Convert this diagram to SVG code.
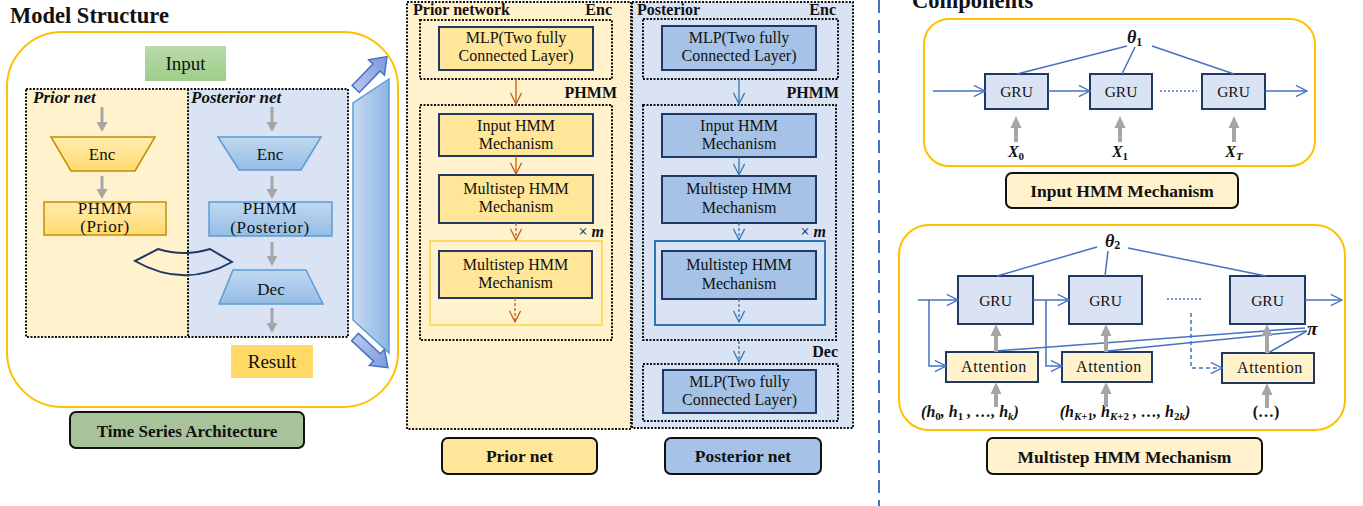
<svg xmlns="http://www.w3.org/2000/svg" width="1363" height="506" viewBox="0 0 1363 506">
  <style>
    text { font-family: "Liberation Serif", "Times New Roman", serif; fill: #111; }
    .ttl { font-size: 22.5px; font-weight: bold; }
    .bd { font-weight: bold; }
    .bi { font-weight: bold; font-style: italic; }
    .up { font-style: normal; }
    .m { text-anchor: middle; }
    .e { text-anchor: end; }
    .t16 { font-size: 16px; }
    .t17 { font-size: 17px; }
    .dot { fill: none; stroke: #111; stroke-width: 2; stroke-dasharray: 2 1.5; }
    .boxY { fill: #FFE699; stroke: #1F3864; stroke-width: 2; }
    .boxB { fill: #A6C3E7; stroke: #1F3864; stroke-width: 2; }
    .gru { fill: #DAE3F3; stroke: #1F3864; stroke-width: 2; }
    .att { fill: #FFF2CC; stroke: #1F3864; stroke-width: 2; }
    .lbl { stroke: #111; stroke-width: 2; }
    .gray { fill: #A6A6A6; }
    .oa { fill: none; stroke: #C55A11; stroke-width: 1.3; marker-end: url(#hO); }
    .ba { fill: none; stroke: #2E75B6; stroke-width: 1.3; marker-end: url(#hB); }
    .ra { fill: none; stroke: #4472C4; stroke-width: 1.5; marker-end: url(#hR); }
    .rl { fill: none; stroke: #4472C4; stroke-width: 1.5; }
    .dsh { stroke-dasharray: 3 2; }
  </style>
  <defs>
    <marker id="hO" viewBox="0 0 14 14" refX="13" refY="7" markerWidth="13" markerHeight="13" markerUnits="userSpaceOnUse" orient="auto">
      <path d="M1,1 L13,7 L1,13" fill="none" stroke="#C55A11" stroke-width="1.3"/>
    </marker>
    <marker id="hB" viewBox="0 0 14 14" refX="13" refY="7" markerWidth="13" markerHeight="13" markerUnits="userSpaceOnUse" orient="auto">
      <path d="M1,1 L13,7 L1,13" fill="none" stroke="#2E75B6" stroke-width="1.3"/>
    </marker>
    <marker id="hR" viewBox="0 0 14 14" refX="13" refY="7" markerWidth="13" markerHeight="13" markerUnits="userSpaceOnUse" orient="auto">
      <path d="M1,1 L13,7 L1,13" fill="none" stroke="#4472C4" stroke-width="1.5"/>
    </marker>
    <linearGradient id="gIn" x1="0" y1="0" x2="0" y2="1">
      <stop offset="0" stop-color="#B9DBAA"/><stop offset="1" stop-color="#9ECD89"/>
    </linearGradient>
    <linearGradient id="gY" x1="0" y1="0" x2="0" y2="1">
      <stop offset="0" stop-color="#FFEBAE"/><stop offset="1" stop-color="#FFDB70"/>
    </linearGradient>
    <linearGradient id="gB" x1="0" y1="0" x2="0" y2="1">
      <stop offset="0" stop-color="#C0D8F0"/><stop offset="1" stop-color="#95BDE5"/>
    </linearGradient>
    <linearGradient id="gPar" x1="0" y1="0" x2="1" y2="0">
      <stop offset="0" stop-color="#C6DBF1"/><stop offset="1" stop-color="#8EB4E2"/>
    </linearGradient>
    <linearGradient id="gArr" x1="0" y1="0" x2="1" y2="0">
      <stop offset="0" stop-color="#B7C6EE"/><stop offset="1" stop-color="#7C97DA"/>
    </linearGradient>
  </defs>

  <!-- ===== Model structure panel ===== -->
  <g id="model-structure">
    <text class="ttl" x="10" y="23">Model Structure</text>
    <rect x="7" y="32" width="391" height="375" rx="55" fill="#fff" stroke="#FFC000" stroke-width="2"/>
  </g>
  <g id="input-box">
    <rect x="145" y="46" width="81" height="35" fill="url(#gIn)"/>
    <text class="m" x="185.5" y="70" font-size="19">Input</text>
  </g>
  <g id="nets-frame">
    <rect x="26" y="89" width="162" height="248" fill="#FFF2CC"/>
    <rect x="188" y="89" width="160" height="248" fill="#DAE3F3"/>
    <line x1="188" y1="89" x2="188" y2="337" class="dot"/>
    <rect x="26" y="89" width="322" height="248" class="dot"/>
    <text class="bi t17" x="33" y="103">Prior net</text>
    <text class="bi t17" x="191" y="103">Posterior net</text>
  </g>
  <g id="prior-enc">
    <path d="M51,137 H155 L135,171 H71 Z" fill="url(#gY)" stroke="#BF9000" stroke-width="1.5"/>
    <text class="m t17" x="102" y="160">Enc</text>
  </g>
  <g id="prior-phmm">
    <rect x="44" y="202" width="122" height="33" fill="url(#gY)" stroke="#BF9000" stroke-width="1.5"/>
    <text class="m t17" x="105" y="214" letter-spacing="0.6">PHMM</text>
    <text class="m t17" x="105" y="232" letter-spacing="0.6">(Prior)</text>
  </g>
  <g id="post-enc">
    <path d="M218,137 H321 L301,170 H239 Z" fill="url(#gB)" stroke="#5B9BD5" stroke-width="1.5"/>
    <text class="m t17" x="270" y="160">Enc</text>
  </g>
  <g id="post-phmm">
    <rect x="209" y="202" width="123" height="34" fill="url(#gB)" stroke="#5B9BD5" stroke-width="1.5"/>
    <text class="m t17" x="270" y="214" letter-spacing="0.6">PHMM</text>
    <text class="m t17" x="270" y="233" letter-spacing="0.6">(Posterior)</text>
  </g>
  <g id="kl-band">
    <path d="M135,261 L158,249 Q184,257 210,249 L232,262 Q184,289 135,261 Z" fill="none" stroke="#1F3864" stroke-width="2"/>
  </g>
  <g id="post-dec">
    <path d="M233,270 H306 L323,304 H219 Z" fill="url(#gB)" stroke="#5B9BD5" stroke-width="1.5"/>
    <text class="m t17" x="271" y="295">Dec</text>
  </g>
  <g id="result-box">
    <rect x="231" y="345" width="82" height="33" fill="#FFD966"/>
    <text class="m" x="272" y="368" font-size="19">Result</text>
  </g>
  <g id="side-bar">
    <path d="M389,79 L353,103 V320 L389,353 Z" fill="url(#gPar)" stroke="#5B9BD5" stroke-width="1.5"/>
    <path transform="translate(355.7,89) rotate(-46)" d="M0,-5 H30 V-11 L45,0 L30,11 V5 H0 Z" fill="url(#gArr)" stroke="#4472C4" stroke-width="1.5"/>
    <path transform="translate(355,337) rotate(43)" d="M0,-5 H30 V-11 L45,0 L30,11 V5 H0 Z" fill="url(#gArr)" stroke="#4472C4" stroke-width="1.5"/>
  </g>
  <g id="time-series-label">
    <rect x="70" y="412" width="234" height="36" rx="6" fill="#A8C39A" class="lbl"/>
    <text class="m bd t17" x="187" y="437">Time Series Architecture</text>
  </g>

  <!-- ===== Prior network column ===== -->
  <g id="prior-network">
    <rect x="407" y="2" width="224" height="427" class="dot" style="fill:#FFF2CC"/>
    <text class="bd t16" x="413" y="15">Prior network</text>
    <text class="bd t16 e" x="612" y="15">Enc</text>
    <rect x="420" y="20" width="192" height="59" class="dot"/>
    <rect x="439" y="27" width="154" height="43" class="boxY"/>
    <text class="m t16" x="516" y="43">MLP(Two fully</text>
    <text class="m t16" x="516" y="61">Connected Layer)</text>
    <text class="bd t16 e" x="617" y="98">PHMM</text>
    <rect x="420" y="105" width="192" height="235" class="dot"/>
    <rect x="439" y="114" width="154" height="42" class="boxY"/>
    <text class="m t16" x="516" y="131">Input HMM</text>
    <text class="m t16" x="516" y="149">Mechanism</text>
    <rect x="439" y="175" width="154" height="48" class="boxY"/>
    <text class="m t16" x="516" y="194">Multistep HMM</text>
    <text class="m t16" x="516" y="212">Mechanism</text>
    <text class="e t16" x="604" y="237">× <tspan class="bi">m</tspan></text>
    <rect x="430" y="241" width="172" height="84" fill="none" stroke="#FFD966" stroke-width="2"/>
    <rect x="439" y="251" width="153" height="47" class="boxY"/>
    <text class="m t16" x="515.5" y="270">Multistep HMM</text>
    <text class="m t16" x="515.5" y="288">Mechanism</text>
  </g>
  <g id="prior-net-label">
    <rect x="442" y="438" width="155" height="36" rx="6" fill="#FFE699" class="lbl"/>
    <text class="m bd" x="519.5" y="462" font-size="17.5">Prior net</text>
  </g>

  <!-- ===== Posterior network column ===== -->
  <g id="posterior-network">
    <rect x="632" y="2" width="221" height="426" class="dot" style="fill:#DAE3F3"/>
    <text class="bd t16" x="637" y="15">Posterior</text>
    <text class="bd t16 e" x="836" y="15">Enc</text>
    <rect x="643" y="19" width="195" height="60" class="dot"/>
    <rect x="662" y="26" width="154" height="44" class="boxB"/>
    <text class="m t16" x="739" y="43">MLP(Two fully</text>
    <text class="m t16" x="739" y="61">Connected Layer)</text>
    <text class="bd t16 e" x="839" y="98">PHMM</text>
    <rect x="643" y="105" width="193" height="235" class="dot"/>
    <rect x="662" y="114" width="154" height="43" class="boxB"/>
    <text class="m t16" x="739" y="131">Input HMM</text>
    <text class="m t16" x="739" y="149">Mechanism</text>
    <rect x="662" y="176" width="154" height="47" class="boxB"/>
    <text class="m t16" x="739" y="194">Multistep HMM</text>
    <text class="m t16" x="739" y="213">Mechanism</text>
    <text class="e t16" x="826" y="237">× <tspan class="bi">m</tspan></text>
    <rect x="655" y="241" width="170" height="84" fill="none" stroke="#2E75B6" stroke-width="2"/>
    <rect x="662" y="251" width="154" height="48" class="boxB"/>
    <text class="m t16" x="739" y="270">Multistep HMM</text>
    <text class="m t16" x="739" y="289">Mechanism</text>
    <text class="bd t16 e" x="838" y="357">Dec</text>
    <rect x="643" y="364" width="195" height="57" class="dot"/>
    <rect x="663" y="370" width="153" height="43" class="boxB"/>
    <text class="m t16" x="739.5" y="387">MLP(Two fully</text>
    <text class="m t16" x="739.5" y="405">Connected Layer)</text>
  </g>
  <g id="posterior-net-label">
    <rect x="665" y="438" width="156" height="36" rx="6" fill="#A6C3E7" class="lbl"/>
    <text class="m bd" x="743" y="462" font-size="17.5">Posterior net</text>
  </g>

  <!-- divider -->
  <line x1="879" y1="0" x2="879" y2="506" stroke="#4472C4" stroke-width="2" stroke-dasharray="13 7"/>

  <!-- ===== Components panel ===== -->
  <g id="components-title">
    <text class="ttl" x="912" y="8">Components</text>
  </g>
  <g id="input-hmm">
    <rect x="924" y="19" width="391" height="147" rx="25" fill="#fff" stroke="#FFC000" stroke-width="2"/>
    <text class="bi" x="1127" y="43" font-size="18">θ<tspan class="up" font-size="12" dy="3">1</tspan></text>
    <rect x="985" y="74" width="63" height="35" class="gru"/>
    <text class="m" x="1016.5" y="97" font-size="15.5">GRU</text>
    <rect x="1090" y="74" width="62" height="35" class="gru"/>
    <text class="m" x="1121" y="97" font-size="15.5">GRU</text>
    <rect x="1202" y="74" width="63" height="35" class="gru"/>
    <text class="m" x="1233.5" y="97" font-size="15.5">GRU</text>
    <text class="bi m" x="1016" y="157" font-size="16">X<tspan class="up" font-size="11" dy="3">0</tspan></text>
    <text class="bi m" x="1120" y="157" font-size="16">X<tspan class="up" font-size="11" dy="3">1</tspan></text>
    <text class="bi m" x="1234" y="157" font-size="16">X<tspan font-size="11" dy="3">T</tspan></text>
  </g>
  <g id="input-hmm-label">
    <rect x="1006" y="173" width="232" height="35" rx="6" fill="#FFF2CC" class="lbl"/>
    <text class="m bd" x="1122" y="197" font-size="17.5">Input HMM Mechanism</text>
  </g>
  <g id="multistep-hmm">
    <rect x="899" y="225" width="446" height="205" rx="30" fill="#fff" stroke="#FFC000" stroke-width="2"/>
    <text class="bi" x="1105" y="247" font-size="18">θ<tspan class="up" font-size="12" dy="2">2</tspan></text>
    <text class="bi" x="1307" y="335" font-size="19">π</text>
    <rect x="958" y="276" width="75" height="48" class="gru"/>
    <text class="m" x="995.5" y="306" font-size="15.5">GRU</text>
    <rect x="1069" y="276" width="73" height="48" class="gru"/>
    <text class="m" x="1105.5" y="306" font-size="15.5">GRU</text>
    <rect x="1230" y="276" width="75" height="48" class="gru"/>
    <text class="m" x="1267.5" y="306" font-size="15.5">GRU</text>
    <rect x="946" y="352" width="92" height="30" class="att"/>
    <text class="m" x="994" y="372" font-size="16" letter-spacing="0.6">Attention</text>
    <rect x="1062" y="352" width="90" height="30" class="att"/>
    <text class="m" x="1109" y="372" font-size="16" letter-spacing="0.6">Attention</text>
    <rect x="1222" y="353" width="92" height="30" class="att"/>
    <text class="m" x="1270" y="373" font-size="16" letter-spacing="0.6">Attention</text>
    <text class="bi m" x="970" y="417" font-size="16">(h<tspan class="up" font-size="11" dy="3">0</tspan><tspan dy="-3">, h</tspan><tspan class="up" font-size="11" dy="3">1</tspan><tspan dy="-3"> , …, h</tspan><tspan font-size="11" dy="3">k</tspan><tspan dy="-3">)</tspan></text>
    <text class="bi m" x="1125" y="417" font-size="16">(h<tspan font-size="11" dy="3">K<tspan class="up">+1</tspan></tspan><tspan dy="-3">, h</tspan><tspan font-size="11" dy="3">K<tspan class="up">+2</tspan></tspan><tspan dy="-3"> , …, h</tspan><tspan font-size="11" dy="3"><tspan class="up">2</tspan>k</tspan><tspan dy="-3">)</tspan></text>
    <text class="bd m" x="1266" y="417" font-size="16">(…)</text>
  </g>
  <g id="multistep-hmm-label">
    <rect x="987" y="438" width="275" height="36" rx="6" fill="#FFF2CC" class="lbl"/>
    <text class="m bd" x="1124.5" y="463" font-size="17.5">Multistep HMM Mechanism</text>
  </g>

  <!-- ===== Connectors ===== -->
  <g id="connectors">
    <!-- left panel flow arrows -->
    <path class="gray" d="M100.5,107 H103.5 V122 H107.5 L102,132 L96.5,122 H100.5 Z"/>
    <path class="gray" d="M270.5,107 H273.5 V122 H277.5 L272,132 L266.5,122 H270.5 Z"/>
    <path class="gray" d="M100.5,176 H103.5 V189 H107.5 L102,199 L96.5,189 H100.5 Z"/>
    <path class="gray" d="M270.5,176 H273.5 V189 H277.5 L272,199 L266.5,189 H270.5 Z"/>
    <path class="gray" d="M270.5,242 H273.5 V256 H277.5 L272,266 L266.5,256 H270.5 Z"/>
    <path class="gray" d="M270.5,308 H273.5 V323 H277.5 L272,333 L266.5,323 H270.5 Z"/>

    <!-- prior column -->
    <line class="oa" x1="516" y1="79" x2="516" y2="104"/>
    <line class="oa" x1="516" y1="156" x2="516" y2="174"/>
    <line class="oa dsh" x1="516" y1="223" x2="516" y2="240"/>
    <line class="oa dsh" x1="515" y1="298" x2="515" y2="322"/>

    <!-- posterior column -->
    <line class="ba" x1="739" y1="79" x2="739" y2="104"/>
    <line class="ba" x1="739" y1="157" x2="739" y2="175"/>
    <line class="ba dsh" x1="739" y1="223" x2="739" y2="240"/>
    <line class="ba dsh" x1="739" y1="299" x2="739" y2="322"/>
    <line class="ba dsh" x1="739" y1="341" x2="739" y2="362"/>

    <!-- input HMM mechanism -->
    <line class="rl" x1="1127" y1="46" x2="1017" y2="74"/>
    <line class="rl" x1="1135" y1="47" x2="1122" y2="74"/>
    <line class="rl" x1="1152" y1="46" x2="1234" y2="74"/>
    <line class="ra" x1="933" y1="91" x2="985" y2="91"/>
    <line class="ra" x1="1048" y1="91" x2="1090" y2="91"/>
    <line class="rl" x1="1160" y1="91" x2="1197" y2="91" stroke-dasharray="2 2"/>
    <line class="ra" x1="1265" y1="91" x2="1307" y2="91"/>
    <path class="gray" d="M1014,142 H1018 V128 H1021.5 L1016,116 L1010.5,128 H1014 Z"/>
    <path class="gray" d="M1118,142 H1122 V128 H1125.5 L1120,116 L1114.5,128 H1118 Z"/>
    <path class="gray" d="M1232,142 H1236 V128 H1239.5 L1234,116 L1228.5,128 H1232 Z"/>

    <!-- multistep HMM mechanism -->
    <line class="rl" x1="1097" y1="247" x2="997" y2="276"/>
    <line class="rl" x1="1108" y1="251" x2="1105" y2="276"/>
    <line class="rl" x1="1128" y1="248" x2="1266" y2="276"/>
    <line class="ra" x1="918" y1="300" x2="958" y2="300"/>
    <polyline class="ra" points="929,300 929,366 946,366"/>
    <line class="ra" x1="1033" y1="300" x2="1069" y2="300"/>
    <polyline class="ra" points="1046,300 1046,366 1062,366"/>
    <line class="rl" x1="1167" y1="299" x2="1203" y2="299" stroke-dasharray="2 2"/>
    <polyline class="ra" points="1191,313 1191,368 1222,368" stroke-width="1.2" stroke-dasharray="4 3"/>
    <line class="ra" x1="1305" y1="300" x2="1342" y2="300"/>
    <line class="rl" x1="1305" y1="328" x2="995" y2="351"/>
    <line class="rl" x1="1306" y1="331" x2="1107" y2="351"/>
    <line class="rl" x1="1307" y1="331" x2="1268" y2="353"/>
    <path class="gray" d="M994,352 H998 V336 H1001.5 L996,324 L990.5,336 H994 Z"/>
    <path class="gray" d="M1104,352 H1108 V336 H1111.5 L1106,324 L1100.5,336 H1104 Z"/>
    <path class="gray" d="M1265,353 H1269 V336 H1272.5 L1267,324 L1261.5,336 H1265 Z"/>
    <path class="gray" d="M994,407 H998 V394 H1001.5 L996,382 L990.5,394 H994 Z"/>
    <path class="gray" d="M1104,407 H1108 V394 H1111.5 L1106,382 L1100.5,394 H1104 Z"/>
    <path class="gray" d="M1265,408 H1269 V395 H1272.5 L1267,383 L1261.5,395 H1265 Z"/>
  </g>
</svg>
